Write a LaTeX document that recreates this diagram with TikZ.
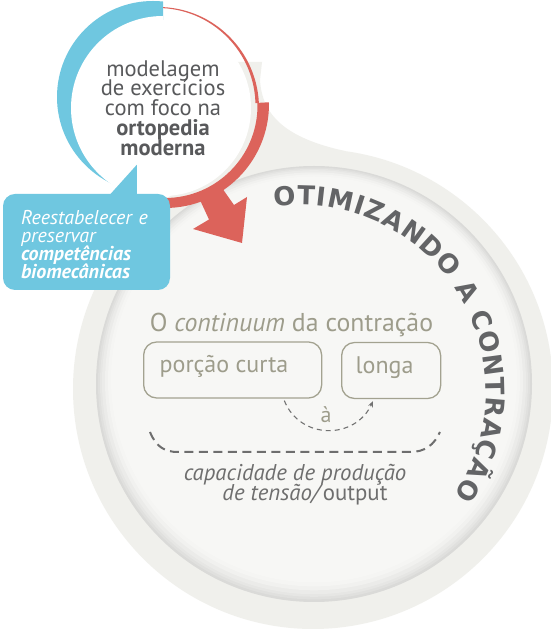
\documentclass[tikz,border=0pt]{standalone}
\usepackage{fontspec}
\setmainfont{PT Sans}
\newfontfamily\titlefam{DejaVu Sans}
\usetikzlibrary{decorations.text,arrows.meta}
\definecolor{ringgrey}{HTML}{F0F0EC}
\definecolor{discgrey}{HTML}{F7F7F5}
\definecolor{shadowgrey}{HTML}{DADAD8}
\definecolor{cblue}{HTML}{6FC7E0}
\definecolor{cred}{HTML}{DC635B}
\definecolor{txtgrey}{HTML}{58595B}
\definecolor{olive}{HTML}{9D9C8B}
\definecolor{boxline}{HTML}{A3A290}
\definecolor{dashgrey}{HTML}{727272}
\definecolor{titlegrey}{HTML}{636466}
\definecolor{capgrey}{HTML}{6E6E6E}
\newcommand\tightlines{\lineskiplimit=-100pt\relax}
\newcommand\titlefont{\titlefam\bfseries\fontsize{26}{28}\selectfont}
\tikzset{
  callout/.style={fill=cblue, rounded corners=12pt, minimum width=167pt, minimum height=96pt,
    inner xsep=18pt, text width=131pt, align=left, text=white,
    font={\fontsize{20}{18}\selectfont\tightlines}},
  pbox/.style={draw=boxline, line width=1.3pt, rounded corners=13pt, minimum height=56pt,
    text=olive, font=\fontsize{24}{26}\selectfont, inner xsep=9pt, text height=13pt, text depth=7pt},
  dasharrow/.style={dashgrey, line width=1.1pt, dash pattern=on 5pt off 4pt, -{Stealth[length=6pt,width=5pt]}},
  bracedash/.style={capgrey, line width=2pt, dash pattern=on 9pt off 5.5pt},
}
\begin{document}
\begin{tikzpicture}[x=1pt,y=1pt]
\useasboundingbox (0,0) rectangle (550,631);
\fill[white] (0,0) rectangle (550,631);
% big circle and tab
\fill[ringgrey] (313,242) circle[radius=240];
\fill[ringgrey] (163,523) -- (200,569) -- (262,569) -- (260,551) .. controls (262,516) and (285,493) .. (345,480) -- (313,242) -- cycle;
% inner disc with soft shadow
\foreach \r/\k in {218/100,216/78,214/58,212/40,209/22,206/8,203/0}
  \fill[shadowgrey!\k!discgrey] (314,{247+(218-\r)*0.3}) circle[radius=\r];
% blue arc
\begin{scope}
  \clip (0,380) rectangle (163,640);
  \fill[cblue] (153,534) circle[radius=96];
  \fill[white] (163,523) circle[radius=92];
\end{scope}
% red thick arc
\begin{scope}
  \clip (163,523) -- (293,530) -- (293,380) -- (140,380) -- cycle;
  \fill[cred,even odd rule] (165,527) circle[radius=104] (165,525.5) circle[radius=92.5];
\end{scope}
% red thin arc
\begin{scope}
  \clip (163,523) -- (163,660) -- (303,660) -- (303,530.3) -- cycle;
  \fill[cred,even odd rule] (158,523) circle[radius=101] (157.5,525) circle[radius=98];
\end{scope}
% red arrow head
\fill[cred] (200,431) -- (209,411.5) -- (193,402) -- (242,388) -- (247,434) -- (234,426) -- (222,443) -- cycle;
% white disc
\fill[white] (163,523) circle[radius=88];
\node[font={\fontsize{22.5}{19.75}\selectfont\tightlines}, text=txtgrey, align=center] (sc) at (163,523)
  {modelagem\\de exercícios\\com foco na\\\textbf{ortopedia}\\\textbf{moderna}};
% callout
\node[callout] (cb) at (86.5,389)
  {\rule{0pt}{20pt}\textit{Reestabelecer e}\\\textit{preservar}\\\textbf{\textit{competências}}\\\textbf{\textit{biomecânicas}}};
\fill[cblue] ([xshift=107pt,yshift=-1pt]cb.north west) -- ([xshift=134pt,yshift=29pt]cb.north west) -- ([xshift=134pt,yshift=-1pt]cb.north west) -- cycle;
% title along arc
\path[decorate, decoration={text along path, text align={fit to path}, text color=titlegrey,
  text={|\titlefont|OTIMIZANDO A CONTRAÇÃO}}]
  (300,240) ++(98:186) arc[start angle=98, end angle=-34, radius=186];
% inner content
\node[anchor=base, text=olive, font=\fontsize{25.8}{28}\selectfont] (tt) at (291.5,299) {O \textit{continuum} da contração};
\node[pbox, anchor=west] (pc) at (143,261) {\makebox[160pt][l]{\hspace{7pt}porção curta}};
\node[pbox, anchor=west] (lg) at (341,260.5) {\makebox[81pt][l]{\hspace{5pt}longa}};
\draw[dasharrow] ([xshift=-38pt,yshift=-2pt]pc.south east) .. controls (300,191) and (355,191) .. ([xshift=32pt,yshift=-2pt]lg.south west);
\node[text=olive, font=\fontsize{22}{24}\selectfont] (a) at (326,216) {à};
\coordinate (bl) at (150,199);
\coordinate (br) at (440,199);
\draw[bracedash] (bl) .. controls (156,184) and (165,179) .. (178,179) -- (410,179) .. controls (425,179) and (434,186) .. (br);
\node[text=capgrey, align=center, font={\fontsize{22.8}{20}\selectfont\tightlines}] (cap) at (300,146)
  {\textit{capacidade de produção}\hspace*{10pt}\\\hspace*{10pt}\textit{de tensão/}output};
\end{tikzpicture}
\end{document}
